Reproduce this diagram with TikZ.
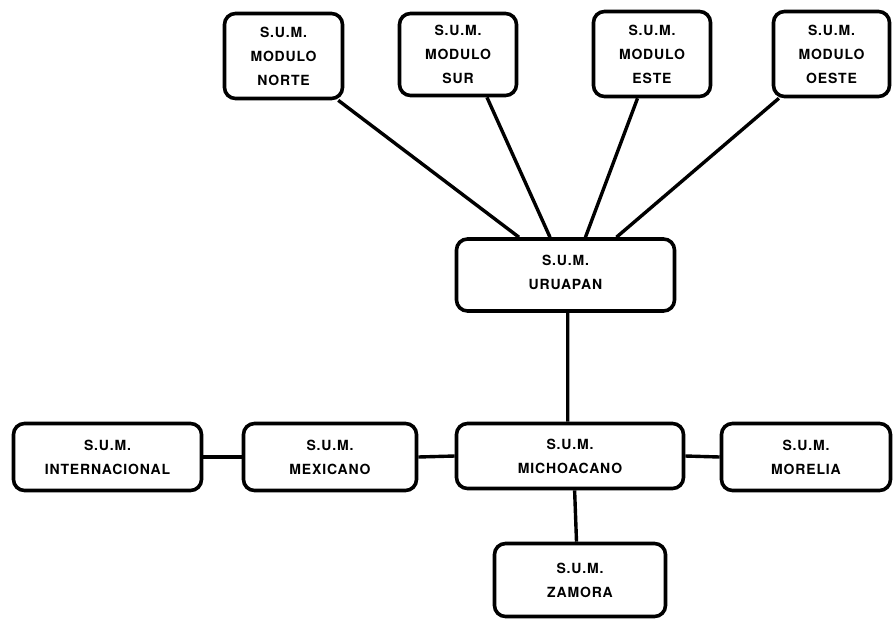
\documentclass[tikz,border=0pt]{standalone}
\usepackage{fontspec}
\setmainfont{TeX Gyre Heros}[LetterSpace=6]
\usetikzlibrary{calc}
\begin{document}
\begin{tikzpicture}[x=1pt,y=-1pt,
  unit/.style={draw=black, line width=3.6pt, rounded corners=11pt, align=center,
    font=\fontsize{14}{24}\selectfont\bfseries, inner sep=0pt},
  link/.style={line width=3.4pt}]
\useasboundingbox (0,0) rectangle (894,622);

% module boxes along the top
\node[unit, minimum width=118pt, minimum height=85pt] (nor) at (283.5,56) {S.U.M.\\MODULO\\NORTE};
\node[unit, minimum width=117pt, minimum height=82pt] (sur) at (458,54.5) {S.U.M.\\MODULO\\SUR};
\node[unit, minimum width=117pt, minimum height=85pt] (est) at (652,54) {S.U.M.\\MODULO\\ESTE};
\node[unit, minimum width=116pt, minimum height=85pt] (oes) at (831.5,54) {S.U.M.\\MODULO\\OESTE};

% regional unit
\node[unit, minimum width=218pt, minimum height=72pt, text depth=6pt] (uru) at (565.5,275) {S.U.M.\\URUAPAN};

% state level row
\node[unit, minimum width=188pt, minimum height=67pt] (int) at (107.5,457) {S.U.M.\\INTERNACIONAL};
\node[unit, minimum width=173pt, minimum height=67pt] (mex) at (330,457) {S.U.M.\\MEXICANO};
\node[unit, minimum width=227pt, minimum height=65pt] (mic) at (570,456) {S.U.M.\\MICHOACANO};
\node[unit, minimum width=169pt, minimum height=67pt] (mor) at (806,457) {S.U.M.\\MORELIA};
\node[unit, minimum width=171pt, minimum height=73pt] (zam) at (580,580) {S.U.M.\\ZAMORA};

% modules feeding into Uruapan
\draw[link] ($(nor.south west)!0.95!(nor.south east)$) -- ($(uru.north west)!0.29!(uru.north east)$);
\draw[link] ($(sur.south west)!0.74!(sur.south east)$) -- ($(uru.north west)!0.43!(uru.north east)$);
\draw[link] ($(est.south west)!0.38!(est.south east)$) -- ($(uru.north west)!0.59!(uru.north east)$);
\draw[link] ($(oes.south west)!0.06!(oes.south east)$) -- ($(uru.north west)!0.73!(uru.north east)$);

% vertical and horizontal links
\draw[link] ($(uru.south west)!0.51!(uru.south east)$) -- ($(mic.north west)!0.49!(mic.north east)$);
\draw[link] ($(mic.south west)!0.52!(mic.south east)$) -- ($(zam.north west)!0.48!(zam.north east)$);
\draw[link] (int.east) -- (mex.west);
\draw[link] (mex.east) -- (mic.west);
\draw[link] (mic.east) -- (mor.west);
\end{tikzpicture}
\end{document}
